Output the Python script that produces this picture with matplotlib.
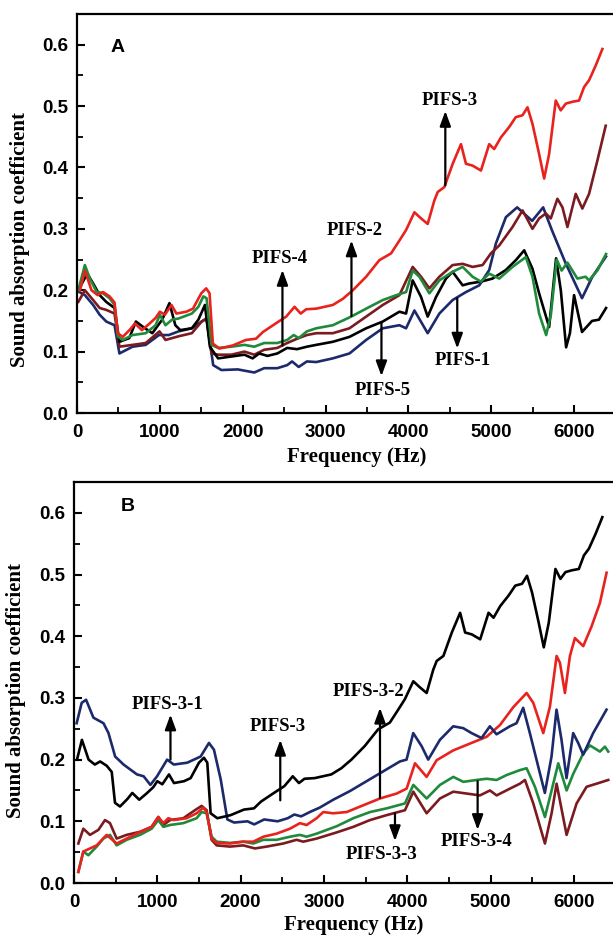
import matplotlib.pyplot as plt
from matplotlib.ticker import MultipleLocator

# panel A  (frequency in Hz, absorption coefficient)
# PIFS-3 is the same sample in both panels
f_pifs3 = [36,95,175,250,314,393,453,492,552,640,700,783,870,950,1000,1060,1140,1200,1320,1400,1500,1560,1600,
           1640,1720,1880,2040,2160,2245,2400,2525,2626,2700,2767,2888,3088,3209,3330,3490,3650,3791,3892,3972,
           4073,4153,4233,4313,4354,4434,4535,4635,4695,4775,4876,4976,5036,5117,5217,5297,5378,5438,5498,5578,
           5639,5699,5779,5839,5900,5980,6060,6121,6181,6261,6342]
a_pifs3 = [0.200,0.232,0.200,0.192,0.197,0.190,0.180,0.130,0.124,0.136,0.146,0.135,0.145,0.155,0.165,0.160,0.176,
           0.162,0.165,0.170,0.195,0.203,0.195,0.113,0.105,0.110,0.119,0.121,0.132,0.146,0.157,0.173,0.162,0.169,
           0.170,0.176,0.186,0.200,0.222,0.249,0.260,0.281,0.298,0.327,0.317,0.308,0.346,0.360,0.368,0.406,0.438,
           0.406,0.403,0.395,0.438,0.430,0.449,0.466,0.482,0.485,0.498,0.471,0.422,0.382,0.422,0.509,0.493,0.504,
           0.507,0.509,0.531,0.542,0.566,0.593]

f_pifs2 = [16,95,155,234,314,393,453,492,552,671,830,949,1000,1068,1147,1227,1386,1465,1525,1564,1624,1703,1862,
           2021,2140,2259,2418,2537,2616,2676,2775,2888,3088,3309,3490,3691,3855,3972,4052,4133,4253,4374,4534,
           4655,4775,4876,4976,5097,5257,5418,5498,5578,5663,5720,5790,5850,5920,6040,6140,6180,6281,6386]
a_pifs2 = [0.200,0.241,0.219,0.198,0.195,0.187,0.176,0.125,0.119,0.127,0.130,0.143,0.160,0.143,0.152,0.154,0.162,
           0.173,0.190,0.187,0.111,0.106,0.108,0.111,0.108,0.114,0.114,0.119,0.127,0.122,0.133,0.138,0.143,0.157,
           0.170,0.184,0.192,0.197,0.232,0.222,0.195,0.216,0.230,0.238,0.222,0.214,0.227,0.219,0.238,0.254,0.222,
           0.162,0.127,0.160,0.250,0.232,0.245,0.219,0.222,0.216,0.232,0.259]

f_pifs5 = [16,123,195,274,353,453,512,631,711,790,909,1028,1116,1187,1247,1386,1465,1544,1604,1703,1862,2021,2120,
           2199,2299,2418,2537,2656,2775,2888,3088,3289,3490,3691,3892,3972,4052,4153,4233,4334,4454,4534,4655,
           4735,4876,5016,5177,5297,5398,5498,5578,5699,5783,5840,5904,5950,6000,6096,6217,6300,6386]
a_pifs5 = [0.200,0.227,0.211,0.192,0.181,0.171,0.116,0.122,0.149,0.141,0.130,0.152,0.179,0.143,0.135,0.138,0.152,
           0.176,0.108,0.089,0.092,0.095,0.089,0.097,0.093,0.097,0.106,0.104,0.108,0.111,0.116,0.124,0.138,0.149,
           0.165,0.162,0.216,0.189,0.157,0.189,0.219,0.230,0.208,0.211,0.214,0.219,0.233,0.249,0.265,0.235,0.195,
           0.140,0.252,0.200,0.107,0.130,0.192,0.132,0.150,0.152,0.171]

f_pifs1 = [16,95,195,274,353,453,512,671,830,989,1108,1227,1386,1505,1564,1644,1743,1941,2140,2259,2418,2537,2596,
           2676,2775,2888,3088,3289,3490,3691,3892,3972,4073,4233,4374,4534,4695,4856,4976,5056,5177,5313,5494,
           5627,5735,5895,6096,6221,6386]
a_pifs1 = [0.198,0.192,0.176,0.160,0.149,0.143,0.097,0.108,0.111,0.127,0.127,0.133,0.138,0.149,0.154,0.078,0.070,
           0.071,0.066,0.073,0.073,0.078,0.084,0.075,0.084,0.083,0.089,0.097,0.119,0.138,0.143,0.138,0.167,0.130,
           0.162,0.184,0.197,0.208,0.233,0.276,0.319,0.335,0.313,0.335,0.297,0.245,0.187,0.222,0.255]

f_pifs4 = [16,95,195,274,353,453,512,671,830,996,1068,1227,1386,1505,1564,1624,1703,1862,2021,2140,2259,2418,2537,
           2656,2775,2888,3088,3289,3490,3691,3892,4052,4153,4253,4374,4534,4655,4775,4896,4996,5097,5257,5378,
           5498,5578,5659,5719,5799,5860,5920,6020,6100,6181,6281,6382]
a_pifs4 = [0.181,0.200,0.184,0.171,0.168,0.162,0.108,0.111,0.114,0.133,0.119,0.125,0.130,0.149,0.154,0.097,0.095,
           0.095,0.100,0.095,0.103,0.106,0.114,0.121,0.127,0.130,0.130,0.138,0.157,0.176,0.192,0.238,0.222,0.203,
           0.222,0.241,0.243,0.238,0.241,0.260,0.273,0.303,0.330,0.300,0.317,0.325,0.317,0.349,0.335,0.303,0.357,
           0.333,0.357,0.411,0.468]

# panel B
f_pifs31 = [32,92,145,233,354,414,494,595,756,836,917,997,1118,1198,1359,1520,1620,1680,1761,1841,1922,2082,2163,
            2283,2444,2565,2645,2726,2846,2947,3112,3312,3512,3712,3912,3992,4072,4172,4252,4392,4552,4672,4772,
            4892,4992,5072,5232,5312,5392,5472,5572,5652,5732,5792,5852,5912,5992,6052,6112,6232,6392]
a_pifs31 = [0.259,0.292,0.297,0.268,0.259,0.243,0.205,0.192,0.176,0.173,0.159,0.173,0.200,0.192,0.195,0.205,0.227,
            0.216,0.168,0.103,0.098,0.100,0.095,0.103,0.100,0.105,0.111,0.108,0.116,0.122,0.135,0.149,0.165,0.181,
            0.197,0.200,0.243,0.222,0.200,0.232,0.254,0.251,0.243,0.235,0.254,0.241,0.254,0.259,0.284,0.243,0.189,
            0.146,0.205,0.281,0.232,0.170,0.243,0.227,0.208,0.243,0.281]

f_pifs32 = [52,112,272,392,512,752,932,1012,1072,1132,1192,1352,1472,1552,1592,1652,1712,1872,2032,2152,2272,2432,
            2592,2712,2792,2912,2992,3112,3273,3473,3673,3873,3993,4093,4233,4353,4553,4753,4953,5113,5273,5433,
            5513,5633,5713,5793,5833,5893,5953,6013,6113,6213,6313,6393]
a_pifs32 = [0.018,0.051,0.061,0.078,0.064,0.080,0.091,0.107,0.097,0.105,0.102,0.105,0.113,0.122,0.115,0.072,0.065,
            0.064,0.067,0.067,0.075,0.080,0.088,0.097,0.094,0.105,0.115,0.113,0.115,0.126,0.137,0.145,0.153,0.194,
            0.172,0.199,0.215,0.226,0.237,0.256,0.285,0.308,0.292,0.243,0.286,0.368,0.357,0.308,0.368,0.397,0.384,
            0.416,0.454,0.503]

f_pifs34 = [52,112,172,272,352,432,512,632,792,932,1012,1072,1152,1312,1472,1532,1592,1652,1712,1872,2032,2152,2272,
            2432,2592,2712,2792,2912,3153,3353,3553,3753,3973,4073,4233,4393,4553,4673,4833,4953,5073,5193,5353,
            5433,5533,5653,5733,5813,5913,5993,6113,6193,6313,6373,6413]
a_pifs34 = [0.018,0.051,0.045,0.059,0.072,0.078,0.061,0.070,0.078,0.088,0.102,0.091,0.094,0.097,0.105,0.115,0.113,
            0.075,0.067,0.065,0.067,0.064,0.070,0.070,0.075,0.078,0.075,0.080,0.092,0.105,0.115,0.121,0.129,0.159,
            0.137,0.159,0.172,0.164,0.167,0.169,0.167,0.175,0.183,0.186,0.156,0.107,0.150,0.194,0.150,0.177,0.210,
            0.223,0.213,0.221,0.213]

f_pifs33 = [52,112,192,292,372,432,512,632,792,932,1012,1072,1152,1312,1452,1532,1592,1652,1712,1872,2032,2172,2312,
            2512,2672,2752,2912,3153,3353,3553,3753,3973,4073,4233,4393,4553,4713,4873,4993,5073,5233,5353,5413,
            5513,5653,5733,5793,5913,6033,6153,6273,6413]
a_pifs33 = [0.064,0.088,0.078,0.086,0.102,0.097,0.072,0.078,0.083,0.091,0.107,0.094,0.102,0.105,0.118,0.125,0.118,
            0.070,0.061,0.059,0.061,0.056,0.059,0.064,0.070,0.067,0.072,0.082,0.091,0.102,0.110,0.118,0.148,0.113,
            0.137,0.148,0.145,0.142,0.150,0.142,0.153,0.161,0.167,0.129,0.064,0.113,0.161,0.078,0.129,0.156,0.161,
            0.167]

RED = '#e8231e'
BLUE = '#1c2a6b'
GREEN = '#1f8a3b'
BROWN = '#7b1b1f'
LW = 1.9

sans = 'Liberation Sans'
serif = 'Liberation Serif'

fig = plt.figure(figsize=(6.13, 9.39), dpi=100)
axA = fig.add_axes([77/613, (939-413)/939, (613-77)/613, (413-14)/939])
axB = fig.add_axes([74/613, (939-883)/939, (613-74)/613, (883-482)/939])

axA.plot(f_pifs1, a_pifs1, color=BLUE, lw=LW)
axA.plot(f_pifs4, a_pifs4, color=BROWN, lw=LW)
axA.plot(f_pifs5, a_pifs5, color='black', lw=LW)
axA.plot(f_pifs2, a_pifs2, color=GREEN, lw=LW)
axA.plot(f_pifs3, a_pifs3, color=RED, lw=LW)

axB.plot(f_pifs33, a_pifs33, color=BROWN, lw=LW)
axB.plot(f_pifs34, a_pifs34, color=GREEN, lw=LW)
axB.plot(f_pifs32, a_pifs32, color=RED, lw=LW)
axB.plot(f_pifs31, a_pifs31, color=BLUE, lw=LW)
axB.plot(f_pifs3, a_pifs3, color='black', lw=LW)


def label(ax, text, txy, base, tip):
    ax.text(txy[0], txy[1], text, ha='center', va='center', fontsize=13.5,
            fontweight='bold', family=serif)
    ax.annotate('', xy=tip, xytext=base,
                arrowprops=dict(arrowstyle='-|>,head_length=0.6,head_width=0.22', color='black',
                                lw=1.6, mutation_scale=15, shrinkA=0, shrinkB=0))


label(axA, 'PIFS-3', (4494, 0.509), (4446, 0.371), (4446, 0.492))
label(axA, 'PIFS-2', (3350, 0.298), (3313, 0.158), (3313, 0.281))
label(axA, 'PIFS-4', (2446, 0.252), (2480, 0.110), (2480, 0.233))
label(axA, 'PIFS-5', (3687, 0.037), (3675, 0.148), (3675, 0.060))
label(axA, 'PIFS-1', (4651, 0.086), (4590, 0.187), (4590, 0.105))

label(axB, 'PIFS-3-1', (1118, 0.289), (1158, 0.200), (1158, 0.273))
label(axB, 'PIFS-3', (2444, 0.254), (2476, 0.134), (2476, 0.232))
label(axB, 'PIFS-3-2', (3533, 0.311), (3673, 0.138), (3673, 0.284))
label(axB, 'PIFS-3-3', (3693, 0.046), (3853, 0.113), (3853, 0.068))
label(axB, 'PIFS-3-4', (4833, 0.068), (4845, 0.165), (4845, 0.086))

axA.text(0.075, 0.915, 'A', transform=axA.transAxes, fontsize=14, fontweight='bold', family=sans,
         ha='center', va='center')
axB.text(0.10, 0.94, 'B', transform=axB.transAxes, fontsize=14, fontweight='bold', family=sans,
         ha='center', va='center')

for ax, ylab_y in [(axA, 0.436), (axB, 0.481)]:
    ax.set_xlim(0, 6470)
    ax.set_ylim(0, 0.65)
    ax.xaxis.set_major_locator(MultipleLocator(1000))
    ax.xaxis.set_minor_locator(MultipleLocator(500))
    ax.yaxis.set_major_locator(MultipleLocator(0.1))
    ax.yaxis.set_minor_locator(MultipleLocator(0.05))
    ax.set_yticks([0, 0.1, 0.2, 0.3, 0.4, 0.5, 0.6])
    ax.set_yticklabels(['0.0', '0.1', '0.2', '0.3', '0.4', '0.5', '0.6'])
    ax.tick_params(which='major', direction='in', length=6, width=1.5, top=False, right=False)
    ax.tick_params(which='minor', direction='in', length=4, width=1.3, top=False, right=False)
    ax.tick_params(axis='x', pad=8)
    ax.tick_params(axis='y', pad=6)
    for lab in ax.get_xticklabels() + ax.get_yticklabels():
        lab.set_fontsize(13.5)
        lab.set_fontweight('bold')
        lab.set_family(sans)
    for s in ['left', 'bottom', 'top']:
        ax.spines[s].set_linewidth(1.6)
    ax.spines['right'].set_visible(False)
    ax.set_xlabel('Frequency (Hz)', fontsize=15, fontweight='bold', family=serif)
    ax.set_ylabel('Sound absorption coefficient', fontsize=15, fontweight='bold', family=serif)
    ax.xaxis.label.set_va('center')
    ax.yaxis.label.set_va('center')
    ax.yaxis.set_label_coords(-0.107, ylab_y)

axA.xaxis.set_label_coords(0.522, -0.110)
axB.xaxis.set_label_coords(0.519, -0.105)

fig.savefig('out.png', dpi=100)
